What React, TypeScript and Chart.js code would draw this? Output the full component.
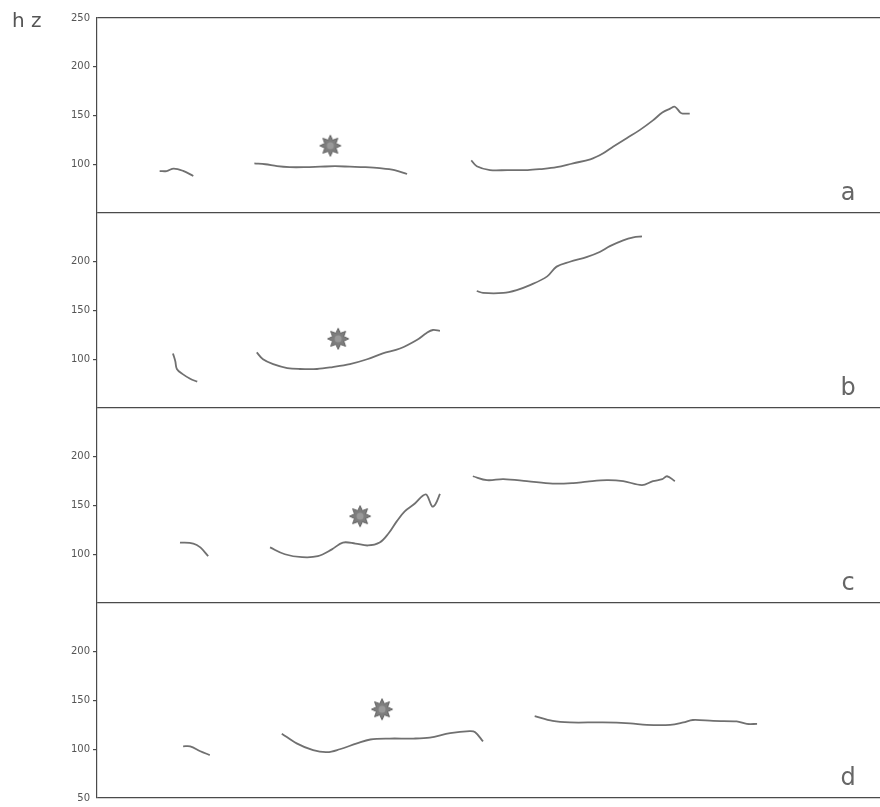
import React, { useEffect, useRef } from 'react';
import { Chart, registerables } from 'chart.js';

Chart.register(...registerables);

// ---------- text ----------
const UNIT_LABEL = 'h z';
const PANEL_LABELS = ['a', 'b', 'c', 'd'];
const PANEL_IDS = ['ya', 'yb', 'yc', 'yd'];

// ---------- axis ----------
const Y_MIN = 50;
const Y_MAX = 250;
const Y_STEP = 50;
const TIME_MIN = 0;
const TIME_MAX = 100;

// ---------- panel a (time in arbitrary units, F0 in Hz) ----------
const aSeg1Time = [8.0, 8.9, 9.8, 11.0, 12.3];
const aSeg1Hz = [93, 93, 95.6, 93.2, 88];
const aSeg2Time = [20.1, 21.5, 23.0, 24.6, 26.6, 28.5, 30.4, 32.3, 34.2, 36.1, 38.0, 39.6];
const aSeg2Hz = [101, 100, 98, 97, 97, 97.5, 98, 97.5, 97, 96, 94, 90];
const aSeg3Time = [47.8, 48.5, 50.2, 52.4, 55.0, 56.6, 58.7, 60.8, 63.0, 64.6, 65.9, 67.7, 69.3, 71.0, 72.2, 73.2, 73.8, 74.5, 74.8, 75.7];
const aSeg3Hz = [104, 98, 94, 94, 94, 95, 97, 101, 105, 111, 118, 127, 135, 145, 153, 157, 159, 153, 152, 152];

// ---------- panel b ----------
const bSeg1Time = [9.7, 10.0, 10.2, 10.9, 11.9, 12.8];
const bSeg1Hz = [106, 98, 90, 85, 80, 77];
const bSeg2Time = [20.4, 21.2, 22.5, 24.3, 25.9, 28.1, 30.1, 32.3, 34.5, 36.5, 38.7, 40.9, 42.1, 42.9, 43.8];
const bSeg2Hz = [107, 100, 95, 91, 90, 90, 92, 95, 100, 106, 111, 120, 127, 130, 129];
const bSeg3Time = [48.5, 49.3, 51.9, 53.6, 55.3, 57.5, 58.7, 60.4, 62.6, 64.2, 65.5, 67.2, 68.5, 69.6];
const bSeg3Hz = [170, 168, 168, 171, 176, 185, 195, 200, 205, 210, 216, 222, 225, 226];

// ---------- panel c ----------
const cSeg1Time = [10.6, 12.3, 13.2, 14.2];
const cSeg1Hz = [112, 111, 107, 98];
const cSeg2Time = [22.1, 24.0, 26.2, 28.2, 30.0, 31.4, 33.0, 34.6, 36.1, 37.2, 38.3, 39.3, 40.6, 41.6, 42.1, 42.8, 43.2, 43.8];
const cSeg2Hz = [107, 100, 97, 98, 105, 112, 111, 109, 112, 121, 134, 144, 152, 160, 161, 149, 151, 162];
const cSeg3Time = [48.0, 49.8, 51.9, 54.9, 58.2, 60.8, 62.6, 65.1, 67.2, 69.6, 71.0, 72.2, 72.8, 73.8];
const cSeg3Hz = [180, 176, 177, 175, 172.5, 173, 174.5, 176, 175, 171, 175, 177, 180, 175];

// ---------- panel d ----------
const dSeg1Time = [11.0, 11.9, 13.2, 14.4];
const dSeg1Hz = [103, 103, 98, 94];
const dSeg2Time = [23.6, 25.5, 27.6, 29.4, 31.0, 33.2, 34.9, 37.4, 40.4, 42.5, 45.1, 47.6, 48.3, 49.3];
const dSeg2Hz = [116, 106, 99, 97, 100, 106, 110, 111, 111, 112, 116.5, 118.5, 117.5, 108];
const dSeg3Time = [55.9, 58.2, 60.4, 64.6, 68.1, 70.2, 73.2, 74.9, 76.1, 78.7, 81.7, 83.0, 84.3];
const dSeg3Hz = [134, 129, 127.5, 127.5, 126.5, 125, 125, 127.5, 130, 129, 128.5, 126, 126];

// ---------- star markers (one per panel) ----------
const starTime = [29.8, 30.8, 33.6, 36.4];
const starHz = [119, 121, 139, 141];

const SEGMENTS = [
  { axis: 'ya', time: aSeg1Time, hz: aSeg1Hz },
  { axis: 'ya', time: aSeg2Time, hz: aSeg2Hz },
  { axis: 'ya', time: aSeg3Time, hz: aSeg3Hz },
  { axis: 'yb', time: bSeg1Time, hz: bSeg1Hz },
  { axis: 'yb', time: bSeg2Time, hz: bSeg2Hz },
  { axis: 'yb', time: bSeg3Time, hz: bSeg3Hz },
  { axis: 'yc', time: cSeg1Time, hz: cSeg1Hz },
  { axis: 'yc', time: cSeg2Time, hz: cSeg2Hz },
  { axis: 'yc', time: cSeg3Time, hz: cSeg3Hz },
  { axis: 'yd', time: dSeg1Time, hz: dSeg1Hz },
  { axis: 'yd', time: dSeg2Time, hz: dSeg2Hz },
  { axis: 'yd', time: dSeg3Time, hz: dSeg3Hz },
];

const LINE_COLOR = '#707070';
const AXIS_COLOR = '#4a4a4a';
const TEXT_COLOR = '#555555';

function makeStar(): HTMLCanvasElement {
  const c = document.createElement('canvas');
  c.width = 24;
  c.height = 24;
  const g = c.getContext('2d') as CanvasRenderingContext2D;
  g.translate(12, 12);
  g.beginPath();
  for (let i = 0; i < 16; i++) {
    const r = i % 2 === 0 ? 10.5 : 6;
    const a = (i * Math.PI) / 8 - Math.PI / 2;
    g.lineTo(r * Math.cos(a), r * Math.sin(a));
  }
  g.closePath();
  g.fillStyle = '#7e7e7e';
  g.fill();
  g.lineWidth = 1;
  g.strokeStyle = '#5e5e5e';
  g.stroke();
  g.beginPath();
  g.arc(0, 0, 3.5, 0, Math.PI * 2);
  g.fillStyle = '#999999';
  g.fill();
  return c;
}

function yScale(showTop: boolean, showBottom: boolean) {
  return {
    type: 'linear',
    position: 'left',
    stack: 'panels',
    stackWeight: 1,
    min: Y_MIN,
    max: Y_MAX,
    afterFit: (scale: any) => {
      scale.width = 97;
    },
    border: { display: true, color: AXIS_COLOR, width: 1.2 },
    grid: {
      drawOnChartArea: true,
      drawTicks: true,
      tickLength: 4,
      lineWidth: 1.2,
      color: (ctx: any) => {
        const v = ctx.tick ? ctx.tick.value : null;
        if (v === Y_MAX) return AXIS_COLOR;
        if (v === Y_MIN && showBottom) return AXIS_COLOR;
        return 'rgba(0,0,0,0)';
      },
      tickColor: (ctx: any) => {
        const v = ctx.tick ? ctx.tick.value : null;
        if (v === Y_MAX || v === Y_MIN) return 'rgba(0,0,0,0)';
        return AXIS_COLOR;
      },
    },
    ticks: {
      stepSize: Y_STEP,
      padding: 3,
      color: TEXT_COLOR,
      font: { family: '"DejaVu Sans"', size: 10 },
      callback: (v: number) => {
        if (v === Y_MAX && !showTop) return '';
        if (v === Y_MIN && !showBottom) return '';
        return String(v);
      },
    },
  };
}

const textPlugin = {
  id: 'panelText',
  afterDraw(chart: any) {
    const ctx = chart.ctx as CanvasRenderingContext2D;
    ctx.save();
    ctx.fillStyle = TEXT_COLOR;
    ctx.textAlign = 'left';
    ctx.textBaseline = 'alphabetic';
    ctx.font = '20px "DejaVu Sans"';
    ctx.fillText(UNIT_LABEL, 12, 27);
    ctx.fillStyle = '#666666';
    ctx.font = '24px "DejaVu Sans"';
    ctx.textAlign = 'center';
    PANEL_IDS.forEach((id, i) => {
      const s = chart.scales[id];
      ctx.fillText(PANEL_LABELS[i], chart.width - 32, s.bottom - 13);
    });
    ctx.restore();
  },
};

export default function App() {
  const ref = useRef<HTMLCanvasElement | null>(null);

  useEffect(() => {
    if (!ref.current) return;
    const star = makeStar();

    const lineSets = SEGMENTS.map((seg) => ({
      type: 'line',
      yAxisID: seg.axis,
      data: seg.time.map((t, i) => ({ x: t, y: seg.hz[i] })),
      borderColor: LINE_COLOR,
      borderWidth: 1.8,
      pointRadius: 0,
      tension: 0.35,
      fill: false,
    }));

    const starSets = PANEL_IDS.map((id, i) => ({
      type: 'line',
      yAxisID: id,
      data: [{ x: starTime[i], y: starHz[i] }],
      showLine: false,
      pointStyle: star,
      pointRadius: 11,
      borderColor: '#777',
      backgroundColor: '#888',
    }));

    const chart = new Chart(ref.current, {
      type: 'line',
      data: { datasets: [...lineSets, ...starSets] as any },
      options: {
        animation: false,
        responsive: false,
        devicePixelRatio: 1,
        layout: { autoPadding: false, padding: { left: 0, top: 18, right: 0, bottom: 5 } },
        plugins: {
          legend: { display: false },
          tooltip: { enabled: false },
        },
        scales: {
          x: { type: 'linear', min: TIME_MIN, max: TIME_MAX, display: false },
          yd: yScale(false, true),
          yc: yScale(false, false),
          yb: yScale(false, false),
          ya: yScale(true, false),
        } as any,
      },
      plugins: [textPlugin],
    });

    return () => chart.destroy();
  }, []);

  return (
    <div style={{ position: 'absolute', left: 0, top: 0, width: 880, height: 807, background: '#ffffff' }}>
      <canvas ref={ref} width={880} height={807} />
    </div>
  );
}
